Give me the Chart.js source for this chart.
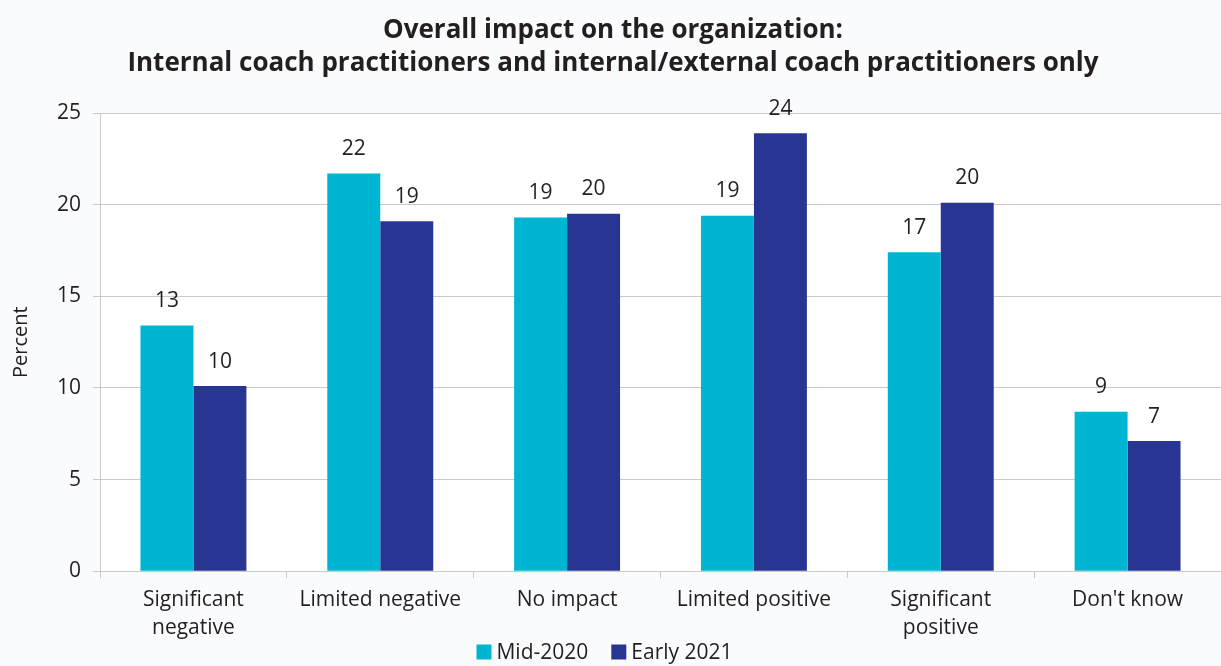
<!DOCTYPE html>
<html>
<head>
<meta charset="utf-8">
<script src="https://cdn.jsdelivr.net/npm/chart.js@4/dist/chart.umd.min.js"></script>
<style>
  html, body { margin: 0; padding: 0; background: #f9fbfd; }
  #wrap { width: 1221px; height: 666px; }
</style>
</head>
<body>
<div id="wrap"><canvas id="impact_chart"></canvas></div>
<script>
// chart data
const categories = [
  ['Significant', 'negative'],
  'Limited negative',
  'No impact',
  'Limited positive',
  ['Significant', 'positive'],
  "Don't know"
];
const mid_2020   = [13.4, 21.7, 19.3, 19.4, 17.4, 8.7];
const early_2021 = [10.1, 19.1, 19.5, 23.9, 20.1, 7.1];
const y_ticks = [0, 5, 10, 15, 20, 25];

const FONT = "'Open Sans', sans-serif";
const TEXT = '#231f20';
const GRID = '#cdc9c6';

// white plot area
const plotBg = {
  id: 'plotBg',
  beforeDraw(chart) {
    const { ctx, chartArea: a } = chart;
    ctx.save();
    ctx.fillStyle = '#ffffff';
    ctx.fillRect(a.left, a.top, a.right - a.left, a.bottom - a.top);
    ctx.restore();
  }
};

// value labels above bars (rounded like the original)
const barLabels = {
  id: 'barLabels',
  afterDatasetsDraw(chart) {
    const ctx = chart.ctx;
    ctx.save();
    ctx.font = '21px ' + FONT;
    ctx.fillStyle = TEXT;
    ctx.textAlign = 'center';
    ctx.textBaseline = 'bottom';
    chart.data.datasets.forEach((ds, i) => {
      chart.getDatasetMeta(i).data.forEach((bar, j) => {
        ctx.fillText(Math.round(ds.data[j]), bar.x, bar.y - 14);
      });
    });
    ctx.restore();
  }
};

// compact legend under the category labels
const bottomLegend = {
  id: 'bottomLegend',
  afterDraw(chart) {
    const ctx = chart.ctx;
    const box = 15, gap = 5, spacing = 23;
    ctx.save();
    ctx.font = '21px ' + FONT;
    ctx.textBaseline = 'middle';
    const items = chart.data.datasets.map(ds => ({ text: ds.label, color: ds.backgroundColor, w: box + gap + ctx.measureText(ds.label).width }));
    const total = items.reduce((s, it) => s + it.w, 0) + spacing * (items.length - 1);
    let x = chart.width / 2 - total / 2 - 6;
    const y = chart.height - 14;
    items.forEach(it => {
      ctx.fillStyle = it.color;
      ctx.fillRect(x, y - box / 2, box, box);
      ctx.fillStyle = TEXT;
      ctx.fillText(it.text, x + box + gap, y + 1);
      x += it.w + spacing;
    });
    ctx.restore();
  }
};

new Chart(document.getElementById('impact_chart'), {
  type: 'bar',
  data: {
    labels: categories,
    datasets: [
      { label: 'Mid-2020', data: mid_2020, backgroundColor: '#00b5d1' },
      { label: 'Early 2021', data: early_2021, backgroundColor: '#283593' }
    ]
  },
  options: {
    responsive: true,
    maintainAspectRatio: false,
    animation: false,
    categoryPercentage: 0.567,
    barPercentage: 1,
    layout: { padding: { left: 5, right: 0, top: 10, bottom: 16 } },
    plugins: {
      title: {
        display: true,
        text: ['Overall impact on the organization:', 'Internal coach practitioners and internal/external coach practitioners only'],
        color: TEXT,
        font: { family: FONT, size: 26, weight: 'bold', lineHeight: 1.27 },
        padding: { top: 4, bottom: 33 }
      },
      legend: { display: false },
      tooltip: { enabled: false }
    },
    scales: {
      x: {
        grid: { drawOnChartArea: false, color: GRID, tickLength: 7, offset: true },
        border: { color: GRID },
        ticks: { color: TEXT, font: { family: FONT, size: 21, lineHeight: 1.33 }, padding: 8, maxRotation: 0, autoSkip: false }
      },
      y: {
        min: 0,
        max: 25,
        afterBuildTicks(axis) { axis.ticks = y_ticks.map(v => ({ value: v })); },
        grid: { color: GRID, tickLength: 7 },
        border: { color: GRID },
        ticks: { color: TEXT, font: { family: FONT, size: 21 }, padding: 12 },
        title: { display: true, text: 'Percent', color: TEXT, font: { family: FONT, size: 20 }, padding: { bottom: 12 } }
      }
    }
  },
  plugins: [plotBg, barLabels, bottomLegend]
});
</script>
</body>
</html>
